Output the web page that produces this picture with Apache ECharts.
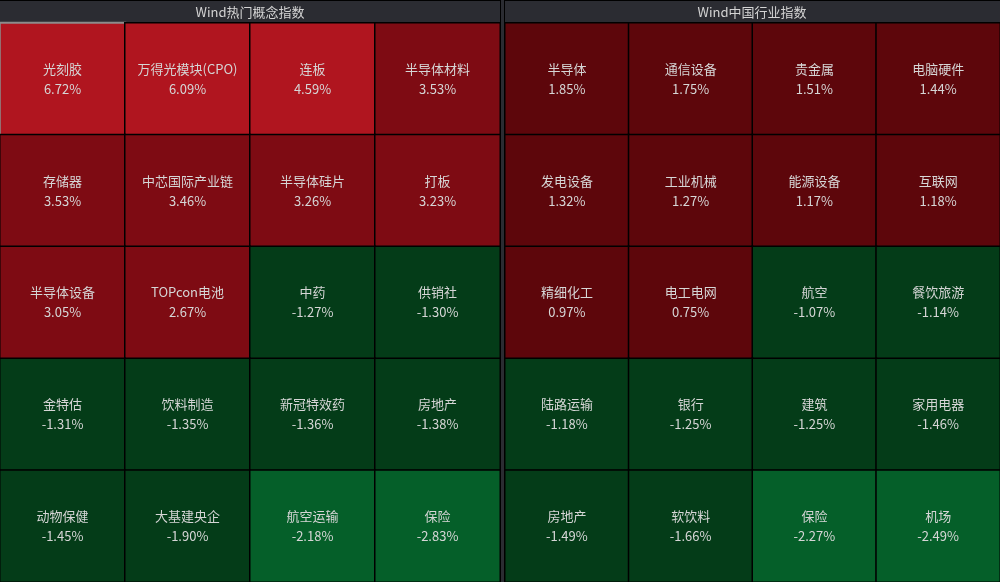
<!DOCTYPE html>
<html>
<head>
<meta charset="utf-8">
<script src="https://cdn.jsdelivr.net/npm/echarts@6/dist/echarts.min.js"></script>
<style>
html,body{margin:0;padding:0;background:#000;}
#c{width:1000px;height:582px;}
</style>
</head>
<body>
<div id="c"></div>
<script>
const panelTitles = ['Wind热门概念指数', 'Wind中国行业指数'];
const colCats = ['0', '1', '2', '3'];
const rowCats = ['0', '1', '2', '3', '4'];

const conceptNames = [
  '光刻胶', '万得光模块(CPO)', '连板', '半导体材料',
  '存储器', '中芯国际产业链', '半导体硅片', '打板',
  '半导体设备', 'TOPcon电池', '中药', '供销社',
  '金特估', '饮料制造', '新冠特效药', '房地产',
  '动物保健', '大基建央企', '航空运输', '保险'
];
const conceptValues = [
  6.72, 6.09, 4.59, 3.53,
  3.53, 3.46, 3.26, 3.23,
  3.05, 2.67, -1.27, -1.30,
  -1.31, -1.35, -1.36, -1.38,
  -1.45, -1.90, -2.18, -2.83
];
const industryNames = [
  '半导体', '通信设备', '贵金属', '电脑硬件',
  '发电设备', '工业机械', '能源设备', '互联网',
  '精细化工', '电工电网', '航空', '餐饮旅游',
  '陆路运输', '银行', '建筑', '家用电器',
  '房地产', '软饮料', '保险', '机场'
];
const industryValues = [
  1.85, 1.75, 1.51, 1.44,
  1.32, 1.27, 1.17, 1.18,
  0.97, 0.75, -1.07, -1.14,
  -1.18, -1.25, -1.25, -1.46,
  -1.49, -1.66, -2.27, -2.49
];

function buildData(names, values, highlightFirst) {
  return names.map((n, i) => {
    const item = { name: n, value: [i % 4, Math.floor(i / 4), values[i]] };
    if (highlightFirst && i === 0) {
      item.itemStyle = { borderColor: '#8c8c8c', borderWidth: 2 };
    }
    return item;
  });
}

const chart = echarts.init(document.getElementById('c'));
const fontFamily = '"Noto Sans CJK SC", "Microsoft YaHei", sans-serif';

const grids = [
  { left: 0, top: 23, width: 500, height: 559 },
  { left: 505, top: 23, width: 495, height: 559 }
];

function axisX(i) {
  return { type: 'category', data: colCats, gridIndex: i, show: false };
}
function axisY(i) {
  return { type: 'category', data: rowCats, gridIndex: i, inverse: true, show: false };
}
function series(i, data) {
  return {
    type: 'heatmap',
    xAxisIndex: i,
    yAxisIndex: i,
    data: data,
    itemStyle: { borderColor: '#000', borderWidth: 1.5 },
    emphasis: { disabled: true },
    label: {
      show: true,
      color: '#d6d6d6',
      fontSize: 13,
      lineHeight: 20,
      fontFamily: fontFamily,
      formatter: p => p.name + '\n' + p.value[2].toFixed(2) + '%'
    }
  };
}

chart.setOption({
  backgroundColor: '#000',
  animation: false,
  graphic: [
    { type: 'rect', shape: { x: 0, y: 1, width: 500, height: 21 }, style: { fill: '#2b2c32' } },
    { type: 'rect', shape: { x: 501, y: 0, width: 3, height: 582 }, style: { fill: '#2b2c32' } },
    { type: 'rect', shape: { x: 505, y: 1, width: 495, height: 21 }, style: { fill: '#2b2c32' } },
    { type: 'text', x: 250, y: 12, style: { text: panelTitles[0], fill: '#d4d4d4', font: '13px ' + fontFamily, align: 'center', verticalAlign: 'middle' } },
    { type: 'text', x: 752, y: 12, style: { text: panelTitles[1], fill: '#d4d4d4', font: '13px ' + fontFamily, align: 'center', verticalAlign: 'middle' } }
  ],
  grid: grids,
  xAxis: [axisX(0), axisX(1)],
  yAxis: [axisY(0), axisY(1)],
  visualMap: {
    type: 'piecewise',
    show: false,
    dimension: 2,
    seriesIndex: [0, 1],
    pieces: [
      { gte: 4, color: '#b0151f' },
      { gte: 2, lt: 4, color: '#7e0b13' },
      { gte: 0, lt: 2, color: '#5d060b' },
      { gte: -2, lt: 0, color: '#043c18' },
      { lt: -2, color: '#055f29' }
    ]
  },
  series: [
    series(0, buildData(conceptNames, conceptValues, true)),
    series(1, buildData(industryNames, industryValues, false))
  ]
});
</script>
</body>
</html>
